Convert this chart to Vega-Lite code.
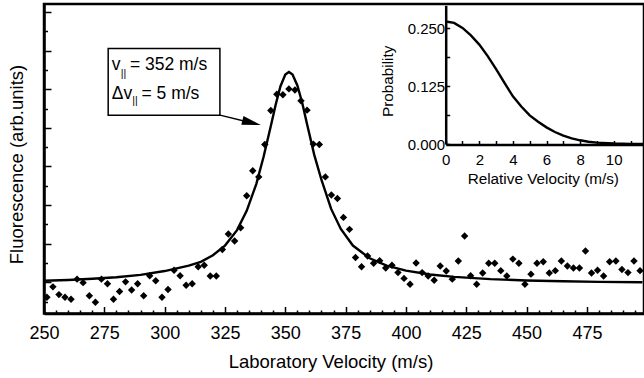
{
  "$schema": "https://vega.github.io/schema/vega-lite/v6.json",
  "autosize": {"type": "none"},
  "padding": {"left": 44, "top": 4, "right": 0, "bottom": 64.5},
  "width": 600,
  "height": 309.5,
  "background": "white",
  "config": {
    "view": {"stroke": "black", "strokeWidth": 2.5},
    "font": "Liberation Sans",
    "axis": {"domainColor": "black", "domainWidth": 2.5, "tickColor": "black", "tickWidth": 1.5, "labelColor": "black", "titleColor": "black", "grid": false, "labelFont": "Liberation Sans", "titleFont": "Liberation Sans", "titleFontWeight": "normal", "labelOverlap": false, "labelFlush": false}
  },
  "datasets": {
    "fit": [
      {"x": 250, "y": 1.04}, {"x": 260, "y": 1.06}, {"x": 270, "y": 1.09}, {"x": 280, "y": 1.13}, {"x": 290, "y": 1.19},
      {"x": 300, "y": 1.29}, {"x": 310, "y": 1.43}, {"x": 315, "y": 1.53}, {"x": 320, "y": 1.70}, {"x": 325, "y": 1.95},
      {"x": 330, "y": 2.35}, {"x": 334, "y": 2.85}, {"x": 338, "y": 3.55}, {"x": 341, "y": 4.25}, {"x": 344, "y": 5.05},
      {"x": 346, "y": 5.6}, {"x": 348, "y": 6.08}, {"x": 350, "y": 6.38}, {"x": 351.5, "y": 6.45}, {"x": 353, "y": 6.38},
      {"x": 355, "y": 6.1}, {"x": 357, "y": 5.65}, {"x": 359, "y": 5.1}, {"x": 362, "y": 4.3}, {"x": 365, "y": 3.65},
      {"x": 369, "y": 2.9}, {"x": 373, "y": 2.38}, {"x": 378, "y": 1.95}, {"x": 385, "y": 1.62}, {"x": 392, "y": 1.43},
      {"x": 400, "y": 1.3}, {"x": 410, "y": 1.2}, {"x": 420, "y": 1.14}, {"x": 435, "y": 1.08}, {"x": 450, "y": 1.045},
      {"x": 465, "y": 1.025}, {"x": 480, "y": 1.01}, {"x": 498, "y": 1.0}
    ],
    "pts": [
      {"x": 251.2, "y": 0.61}, {"x": 253.7, "y": 0.88}, {"x": 256.2, "y": 0.68}, {"x": 258.7, "y": 0.61}, {"x": 261.2, "y": 0.56},
      {"x": 263.7, "y": 1.08}, {"x": 266.2, "y": 0.99}, {"x": 268.8, "y": 0.65}, {"x": 271.3, "y": 0.48}, {"x": 273.8, "y": 1.08},
      {"x": 276.3, "y": 0.96}, {"x": 278.8, "y": 0.56}, {"x": 281.3, "y": 0.76}, {"x": 283.8, "y": 1.01}, {"x": 286.3, "y": 0.80},
      {"x": 288.8, "y": 0.96}, {"x": 291.3, "y": 0.65}, {"x": 293.8, "y": 1.17}, {"x": 296.3, "y": 1.04}, {"x": 298.9, "y": 0.61},
      {"x": 301.4, "y": 0.81}, {"x": 303.9, "y": 1.31}, {"x": 306.4, "y": 1.17}, {"x": 308.9, "y": 0.92}, {"x": 311.4, "y": 0.96},
      {"x": 313.9, "y": 1.40}, {"x": 316.4, "y": 1.44}, {"x": 318.9, "y": 1.16}, {"x": 321.4, "y": 1.16}, {"x": 323.9, "y": 1.85},
      {"x": 326.4, "y": 2.25}, {"x": 329.0, "y": 2.07}, {"x": 331.5, "y": 2.41}, {"x": 334.0, "y": 3.24}, {"x": 336.5, "y": 3.89},
      {"x": 339.0, "y": 3.73}, {"x": 341.5, "y": 4.57}, {"x": 344.0, "y": 5.45}, {"x": 346.5, "y": 5.87}, {"x": 349.0, "y": 5.86},
      {"x": 351.5, "y": 6.01}, {"x": 354.0, "y": 5.98}, {"x": 356.5, "y": 5.70}, {"x": 359.0, "y": 5.46}, {"x": 361.6, "y": 4.58},
      {"x": 364.1, "y": 4.57}, {"x": 366.6, "y": 3.73}, {"x": 369.1, "y": 3.26}, {"x": 371.6, "y": 3.17}, {"x": 374.1, "y": 2.68},
      {"x": 376.6, "y": 2.37}, {"x": 379.1, "y": 1.64}, {"x": 381.6, "y": 1.40}, {"x": 384.1, "y": 1.68}, {"x": 386.6, "y": 1.49},
      {"x": 389.1, "y": 1.56}, {"x": 391.6, "y": 1.37}, {"x": 394.2, "y": 1.44}, {"x": 396.7, "y": 1.25}, {"x": 399.2, "y": 1.10},
      {"x": 401.7, "y": 0.95}, {"x": 404.2, "y": 1.50}, {"x": 406.7, "y": 1.25}, {"x": 409.2, "y": 1.16}, {"x": 411.7, "y": 1.05},
      {"x": 414.2, "y": 1.42}, {"x": 416.7, "y": 1.29}, {"x": 419.2, "y": 1.08}, {"x": 421.7, "y": 1.55}, {"x": 424.3, "y": 2.20},
      {"x": 426.8, "y": 1.17}, {"x": 429.3, "y": 0.95}, {"x": 431.8, "y": 1.24}, {"x": 434.3, "y": 1.49}, {"x": 436.8, "y": 1.49},
      {"x": 439.3, "y": 1.30}, {"x": 441.8, "y": 1.16}, {"x": 444.3, "y": 1.60}, {"x": 446.8, "y": 1.49}, {"x": 449.3, "y": 0.95},
      {"x": 451.8, "y": 1.21}, {"x": 454.3, "y": 1.49}, {"x": 456.9, "y": 1.53}, {"x": 459.4, "y": 1.24}, {"x": 461.9, "y": 1.30},
      {"x": 464.4, "y": 1.55}, {"x": 466.9, "y": 1.42}, {"x": 469.4, "y": 1.37}, {"x": 471.9, "y": 1.37}, {"x": 474.4, "y": 1.81},
      {"x": 476.9, "y": 1.24}, {"x": 479.4, "y": 1.31}, {"x": 481.9, "y": 1.16}, {"x": 484.4, "y": 1.53}, {"x": 487.0, "y": 1.55},
      {"x": 489.5, "y": 1.33}, {"x": 492.0, "y": 1.25}, {"x": 494.5, "y": 1.55}, {"x": 497.0, "y": 1.30}
    ],
    "box": [{"x": 276.6, "x2": 322.9, "y": 7.06, "y2": 5.33}],
    "txt": [
      {"x": 278.06, "y": 6.49, "t": "v"},
      {"x": 285.6, "y": 6.49, "t": "= 352 m/s"},
      {"x": 278.06, "y": 5.76, "t": "Δv"},
      {"x": 290.4, "y": 5.76, "t": "= 5 m/s"}
    ],
    "sub": [
      {"x": 281.8, "y": 6.33, "t": "||"},
      {"x": 286.6, "y": 5.61, "t": "||"}
    ],
    "arrow": [{"x": 322.94, "y": 5.33, "x2": 334.55, "y2": 5.15}],
    "head": [{"x": 339.87, "y": 5.075}],
    "inset": [
      {"rv": 0, "p": 0.265}, {"rv": 0.5, "p": 0.262}, {"rv": 1, "p": 0.251}, {"rv": 1.5, "p": 0.235}, {"rv": 2, "p": 0.215},
      {"rv": 2.5, "p": 0.19}, {"rv": 3, "p": 0.162}, {"rv": 3.5, "p": 0.132}, {"rv": 4, "p": 0.103}, {"rv": 4.5, "p": 0.081},
      {"rv": 5, "p": 0.062}, {"rv": 5.5, "p": 0.048}, {"rv": 6, "p": 0.036}, {"rv": 6.5, "p": 0.026}, {"rv": 7, "p": 0.018},
      {"rv": 7.5, "p": 0.012}, {"rv": 8, "p": 0.008}, {"rv": 8.5, "p": 0.005}, {"rv": 9, "p": 0.003}, {"rv": 10, "p": 0.001},
      {"rv": 11, "p": 0.0003}, {"rv": 12, "p": 0}
    ]
  },
  "layer": [
    {
      "encoding": {
        "x": {
          "field": "x", "type": "quantitative",
          "scale": {"domain": [250, 498.65], "nice": false, "zero": false},
          "axis": {
            "values": [250,255,260,265,270,275,280,285,290,295,300,305,310,315,320,325,330,335,340,345,350,355,360,365,370,375,380,385,390,395,400,405,410,415,420,425,430,435,440,445,450,455,460,465,470,475,480,485,490,495],
            "tickSize": {"condition": {"test": "datum.value % 25 === 0", "value": -7}, "value": -3.5},
            "labelExpr": "datum.value % 25 === 0 ? datum.label : ''",
            "labelFontSize": 18,
            "labelPadding": 17.5,
            "title": "Laboratory Velocity (m/s)",
            "titleFontSize": 18.5,
            "titleX": 286.5,
            "titleY": 53.5,
            "titleBaseline": "alphabetic",
            "titleAlign": "center"
          }
        },
        "y": {
          "field": "y", "type": "quantitative",
          "scale": {"domain": [0.19, 8.21], "nice": false, "zero": false},
          "axis": {
            "values": [0.5,1,1.5,2,2.5,3,3.5,4,4.5,5,5.5,6,6.5,7,7.5,8],
            "tickSize": {"condition": {"test": "datum.value % 1 === 0", "value": -7}, "value": -3.5},
            "labels": false,
            "title": "Fluorescence (arb.units)",
            "titleFontSize": 18.5,
            "titleX": -21.3,
            "titleY": 160,
            "titleAngle": 270,
            "titleBaseline": "alphabetic",
            "titleAlign": "center"
          }
        }
      },
      "layer": [
        {"data": {"name": "fit"}, "mark": {"type": "line", "color": "black", "strokeWidth": 2.4}},
        {"data": {"name": "pts"}, "mark": {"type": "point", "shape": "diamond", "filled": true, "color": "black", "size": 55, "opacity": 1}},
        {"data": {"name": "box"}, "mark": {"type": "rect", "fill": "white", "stroke": "black", "strokeWidth": 1.5}, "encoding": {"x2": {"field": "x2"}, "y2": {"field": "y2"}}},
        {"data": {"name": "txt"}, "mark": {"type": "text", "align": "left", "baseline": "alphabetic", "fontSize": 17.5, "color": "black"}, "encoding": {"text": {"field": "t"}}},
        {"data": {"name": "sub"}, "mark": {"type": "text", "align": "left", "baseline": "alphabetic", "fontSize": 10.5, "color": "black"}, "encoding": {"text": {"field": "t"}}},
        {"data": {"name": "arrow"}, "mark": {"type": "rule", "color": "black", "strokeWidth": 1.5}, "encoding": {"x2": {"field": "x2"}, "y2": {"field": "y2"}}},
        {"data": {"name": "head"}, "mark": {"type": "point", "shape": "M -2 -0.47 L 0 0 L -2 0.47 Z", "filled": true, "color": "black", "size": 361, "angle": 13.8, "opacity": 1}}
      ]
    },
    {
      "data": {"name": "inset"},
      "mark": {"type": "line", "color": "black", "strokeWidth": 2.4},
      "encoding": {
        "x": {
          "field": "rv", "type": "quantitative",
          "scale": {"domain": [0, 12], "range": [401.7, 603.3], "nice": false, "zero": false},
          "axis": {
            "orient": "bottom",
            "offset": -169,
            "values": [0,1,2,3,4,5,6,7,8,9,10,11],
            "tickSize": -4,
            "labelExpr": "datum.value % 2 === 0 ? datum.label : ''",
            "labelFontSize": 15,
            "labelPadding": 12,
            "title": "Relative Velocity (m/s)",
            "titleFontSize": 15.3,
            "titleX": 498.8,
            "titleY": 39,
            "titleBaseline": "alphabetic",
            "titleAlign": "center"
          }
        },
        "y": {
          "field": "p", "type": "quantitative",
          "scale": {"domain": [0, 0.3], "range": [140, 1.3], "nice": false, "zero": false},
          "axis": {
            "orient": "left",
            "offset": -401.7,
            "values": [0, 0.0625, 0.125, 0.1875, 0.25],
            "tickSize": -4,
            "format": ".3f",
            "labelExpr": "(datum.value * 8) % 1 === 0 ? datum.label : ''",
            "labelFontSize": 15,
            "labelPadding": 5,
            "title": "Probability",
            "titleFontSize": 15.3,
            "titleX": -53.7,
            "titleY": 76.8,
            "titleAngle": 270,
            "titleBaseline": "alphabetic",
            "titleAlign": "center"
          }
        }
      }
    }
  ],
  "resolve": {"scale": {"x": "independent", "y": "independent"}, "axis": {"x": "independent", "y": "independent"}}
}
